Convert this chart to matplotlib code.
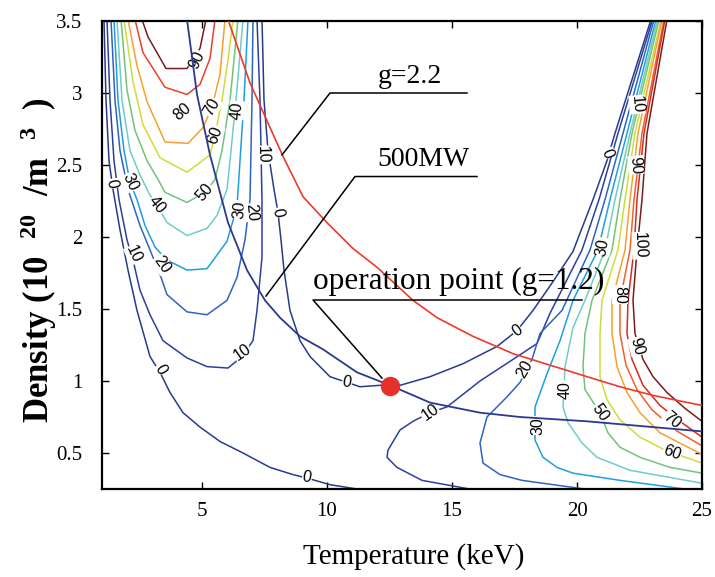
import numpy as np
import matplotlib.pyplot as plt

plt.rcParams['font.family'] = 'Liberation Serif'
plt.rcParams['mathtext.fontset'] = 'custom'
plt.rcParams['mathtext.rm'] = 'Liberation Serif:bold'
plt.rcParams['mathtext.bf'] = 'Liberation Serif:bold'
plt.rcParams['mathtext.it'] = 'Liberation Serif:bold:italic'

# --- contours of the left region (levels 0..90), T in keV, n in 1e20/m^3 ---
L0_T = [1.08, 1.16, 1.28, 1.44, 1.72, 2.04, 2.40, 2.92, 3.32, 3.72, 4.24, 4.92, 5.72, 6.64, 7.72, 8.64, 9.32, 10.12, 11.2]
L0_n = [3.51, 2.95, 2.53, 2.33, 2.05, 1.77, 1.49, 1.17, 1.06, 0.92, 0.78, 0.68, 0.58, 0.50, 0.40, 0.35, 0.32, 0.28, 0.25]
L10_T = [1.2, 1.32, 1.48, 1.68, 2.0, 2.24, 2.52, 2.92, 3.44, 4.4, 5.2, 6.04, 6.6, 7.04, 7.2, 7.4, 7.4, 7.32, 7.2]
L10_n = [3.51, 2.95, 2.53, 2.26, 1.98, 1.84, 1.63, 1.46, 1.28, 1.16, 1.10, 1.09, 1.17, 1.28, 1.49, 1.86, 2.26, 2.95, 3.51]
L20_T = [1.36, 1.52, 1.72, 2.04, 2.52, 2.92, 3.32, 3.6, 4.4, 5.2, 6.0, 6.4, 6.72, 6.92, 7.0, 7.04]
L20_n = [3.51, 2.95, 2.60, 2.33, 2.08, 1.91, 1.74, 1.60, 1.48, 1.46, 1.56, 1.72, 1.98, 2.26, 2.95, 3.51]
L30_T = [1.48, 1.64, 1.88, 2.12, 2.4, 2.72, 3.12, 3.6, 4.4, 5.2, 6.0, 6.4, 6.52, 6.68, 6.84]
L30_n = [3.51, 2.95, 2.60, 2.38, 2.26, 2.08, 1.93, 1.84, 1.77, 1.78, 1.97, 2.21, 2.53, 2.95, 3.51]
L40_T = [1.6, 1.8, 2.12, 2.52, 2.92, 3.2, 3.6, 4.4, 5.2, 5.6, 6.0, 6.12, 6.36, 6.64]
L40_n = [3.51, 2.95, 2.60, 2.43, 2.29, 2.22, 2.10, 2.01, 2.06, 2.15, 2.33, 2.53, 2.95, 3.51]
L50_T = [1.76, 2.0, 2.32, 2.8, 3.24, 3.52, 4.4, 5.12, 5.52, 5.8, 6.12, 6.44]
L50_n = [3.51, 3.02, 2.74, 2.53, 2.40, 2.31, 2.24, 2.31, 2.40, 2.60, 2.95, 3.51]
L60_T = [1.88, 2.24, 2.64, 3.32, 4.4, 5.32, 5.52, 5.8, 6.04, 6.24]
L60_n = [3.51, 3.08, 2.78, 2.55, 2.45, 2.57, 2.71, 2.95, 3.23, 3.51]
L70_T = [2.04, 2.4, 2.8, 3.52, 4.44, 5.04, 5.4, 5.72, 5.92]
L70_n = [3.51, 3.19, 2.94, 2.66, 2.65, 2.76, 2.90, 3.13, 3.51]
L80_T = [2.32, 2.64, 3.52, 4.4, 4.92, 5.32, 5.52]
L80_n = [3.51, 3.28, 3.04, 2.99, 3.06, 3.24, 3.51]
L90_T = [2.6, 2.84, 3.56, 4.4, 4.92, 5.16]
L90_n = [3.51, 3.39, 3.17, 3.17, 3.31, 3.51]

# zero contour through the operation point, joining both regions
Z0_T = [7.4, 7.48, 7.64, 7.88, 8.04, 8.16, 8.28, 8.52, 8.92, 9.32, 10.12, 10.8, 11.32, 12.12, 12.52,
        12.92, 14.12, 15.44, 16.8, 17.6, 18.24, 19.04, 19.84, 20.64, 21.2, 21.52, 22.96]
Z0_n = [3.51, 2.95, 2.60, 2.33, 2.17, 1.98, 1.77, 1.49, 1.28, 1.17, 1.03, 0.99, 0.96, 0.97, 0.97,
        0.97, 1.03, 1.12, 1.24, 1.35, 1.49, 1.69, 1.90, 2.26, 2.53, 2.72, 3.51]

# --- contours of the right region (levels 10..100) ---
R10_T = [23.02, 21.64, 20.88, 20.2, 18.92, 18.4, 17.44, 16.12, 14.8, 14.12, 13.44, 12.92, 12.44, 12.4, 12.8, 13.8, 15.7]
R10_n = [3.51, 2.72, 2.26, 1.91, 1.47, 1.26, 1.15, 1.0, 0.82, 0.78, 0.72, 0.66, 0.52, 0.47, 0.40, 0.31, 0.25]
R20_T = [23.08, 21.84, 21.12, 20.52, 19.4, 18.52, 18.2, 17.72, 17.2, 16.4, 16.12, 16.24, 16.92, 17.8, 20.3]
R20_n = [3.51, 2.72, 2.26, 1.91, 1.49, 1.33, 1.15, 0.99, 0.89, 0.75, 0.57, 0.43, 0.35, 0.31, 0.25]
R30_T = [23.16, 22.0, 21.32, 20.84, 19.84, 19.32, 18.8, 18.32, 18.32, 18.64, 19.2, 19.84, 21.72, 24.3]
R30_n = [3.51, 2.72, 2.26, 1.91, 1.56, 1.28, 1.05, 0.82, 0.59, 0.47, 0.40, 0.36, 0.31, 0.25]
R40_T = [23.22, 22.12, 21.52, 21.12, 20.32, 19.84, 19.52, 19.48, 19.44, 19.64, 20.2, 20.8, 22.12, 23.72, 25.0]
R40_n = [3.51, 2.72, 2.26, 1.91, 1.56, 1.37, 1.10, 0.95, 0.82, 0.71, 0.57, 0.47, 0.38, 0.33, 0.29]
R50_T = [23.28, 22.2, 21.72, 21.4, 20.6, 20.32, 20.24, 20.32, 20.92, 21.24, 21.72, 22.52, 23.72, 25.0]
R50_n = [3.51, 2.72, 2.26, 1.91, 1.56, 1.33, 1.10, 0.94, 0.78, 0.64, 0.54, 0.47, 0.40, 0.36]
R60_T = [23.36, 22.32, 21.92, 21.64, 21.0, 20.92, 20.92, 21.2, 21.72, 22.52, 23.52, 25.0]
R60_n = [3.51, 2.72, 2.26, 1.91, 1.56, 1.33, 1.03, 0.87, 0.73, 0.61, 0.52, 0.43]
R70_T = [23.4, 22.44, 22.12, 21.92, 21.4, 21.4, 21.6, 22.0, 22.52, 23.32, 25.0]
R70_n = [3.51, 2.72, 2.26, 1.91, 1.56, 1.33, 1.10, 0.92, 0.78, 0.64, 0.49]
R80_T = [23.48, 22.6, 22.28, 22.12, 21.72, 21.72, 21.96, 22.4, 23.0, 23.92, 25.0]
R80_n = [3.51, 2.72, 2.26, 1.91, 1.56, 1.33, 1.11, 0.94, 0.80, 0.66, 0.55]
R90_T = [23.52, 22.68, 22.4, 22.28, 22.04, 22.0, 22.2, 22.64, 23.32, 24.12, 25.0]
R90_n = [3.51, 2.72, 2.26, 1.91, 1.56, 1.33, 1.15, 0.97, 0.83, 0.72, 0.61]
R100_T = [23.6, 22.8, 22.6, 22.4, 22.24, 22.32, 22.64, 23.04, 23.6, 24.32, 25.0]
R100_n = [3.51, 2.72, 2.26, 1.91, 1.56, 1.33, 1.15, 1.03, 0.92, 0.81, 0.72]

# g = 2.2 curve and 500 MW fusion power curve
g22_T = [6.04, 6.92, 8.24, 9.04, 10.0, 11.04, 12.0, 13.44, 14.4, 15.84, 17.44, 18.92, 20.4, 21.72, 23.04, 25.0]
g22_n = [3.51, 3.07, 2.56, 2.28, 2.10, 1.92, 1.79, 1.56, 1.44, 1.31, 1.19, 1.11, 1.03, 0.96, 0.90, 0.83]
p500_T = [4.4, 4.8, 5.32, 6.04, 6.8, 7.52, 8.12, 8.92, 9.84, 11.2, 12.52, 12.92, 14.12, 16.12, 17.72, 20.4, 25.0]
p500_n = [3.51, 2.99, 2.57, 2.10, 1.77, 1.56, 1.44, 1.31, 1.22, 1.06, 0.97, 0.94, 0.85, 0.78, 0.75, 0.72, 0.65]

op_T, op_n = 12.5, 0.965

# contour labels
lab_text = ['0', '10', '20', '30', '40', '50', '60', '70', '80', '90', '40', '30', '20', '10', '0',
            '10', '0', '0', '0',
            '10', '0', '20', '30', '40', '50', '60', '70', '80', '90', '90', '100', '30', '0', '10']
lab_T = [1.4, 2.28, 3.4, 2.12, 3.2, 5.12, 5.52, 5.4, 4.2, 4.8, 6.4, 6.52, 7.0, 7.44, 8.04,
         6.6, 3.32, 9.2, 10.8,
         14.12, 17.6, 17.92, 18.44, 19.52, 20.92, 23.8, 23.8, 21.72, 22.4, 22.36, 22.52, 21.04, 21.2, 22.4]
lab_n = [2.37, 1.88, 1.81, 2.38, 2.22, 2.31, 2.71, 2.90, 2.87, 3.23, 2.88, 2.19, 2.17, 2.57, 2.17,
         1.20, 1.08, 0.33, 0.99,
         0.78, 1.35, 1.08, 0.69, 0.94, 0.78, 0.50, 0.73, 1.60, 1.24, 2.50, 1.94, 1.93, 2.58, 2.92]
lab_rot = [-80, -65, -55, -65, -50, 50, 70, 60, 40, 65, 85, 85, -85, -88, -80,
           35, -60, -10, -10,
           35, 35, 60, 90, 90, -55, -20, -40, -90, -75, -85, -88, 80, -70, -85]

# colours
c_left = ['#283a8c', '#2d3f9e', '#2f63c0', '#1f9fe0', '#6fcdc8', '#74c27a', '#cfdc3a', '#f7a030', '#e8402c', '#7a1c1c']
c_right = ['#2d3f9e', '#2f63c0', '#1f9fe0', '#6fcdc8', '#74c27a', '#cfdc3a', '#f7a030', '#f0602a', '#d42a22', '#7a1c1c']

left_lines = [(L0_T, L0_n), (L10_T, L10_n), (L20_T, L20_n), (L30_T, L30_n), (L40_T, L40_n),
              (L50_T, L50_n), (L60_T, L60_n), (L70_T, L70_n), (L80_T, L80_n), (L90_T, L90_n)]
right_lines = [(R10_T, R10_n), (R20_T, R20_n), (R30_T, R30_n), (R40_T, R40_n), (R50_T, R50_n),
               (R60_T, R60_n), (R70_T, R70_n), (R80_T, R80_n), (R90_T, R90_n), (R100_T, R100_n)]

fig = plt.figure(figsize=(7.15, 5.77), dpi=100)
ax = fig.add_axes([102 / 715, 88 / 577, 600 / 715, 468 / 577])

for (t, n), c in zip(left_lines, c_left):
    ax.plot(t, n, color=c, lw=1.1)
for (t, n), c in zip(right_lines, c_right):
    ax.plot(t, n, color=c, lw=1.1)
ax.plot(Z0_T, Z0_n, color=c_left[0], lw=1.1)

for t, n, s, r in zip(lab_T, lab_n, lab_text, lab_rot):
    ax.text(t, n, s, rotation=r, ha='center', va='center', rotation_mode='anchor',
            family='Liberation Sans', fontsize=11.5, zorder=3,
            bbox=dict(fc='white', ec='none', pad=0.3))

ax.plot(g22_T, g22_n, color='#ee3a2a', lw=1.2, zorder=4)
ax.plot(p500_T, p500_n, color='#2b3990', lw=1.3, zorder=4)

# annotations
ax.plot([8.2, 10.12, 15.6], [2.57, 3.0, 3.0], color='k', lw=1.1, zorder=5)
ax.text(13.3, 3.03, 'g=2.2', ha='center', va='bottom', fontsize=20, zorder=5)
ax.plot([7.56, 11.12, 16.0], [1.59, 2.42, 2.42], color='k', lw=1.1, zorder=5)
ax.text(13.84, 2.45, '500MW', ha='center', va='bottom', fontsize=20, zorder=5)
ax.plot([12.2, 9.44, 20.2], [1.02, 1.5625, 1.5625], color='k', lw=1.1, zorder=5)
ax.text(9.44, 1.64, 'operation point (g=1.2)', ha='left', va='baseline', fontsize=22.5, zorder=5)

ax.plot(op_T, op_n, 'o', color='#e8302a', ms=13, zorder=6)

ax.set_xlim(1, 25)
ax.set_ylim(0.25, 3.5)
ax.set_xticks([5, 10, 15, 20, 25])
ax.set_yticks([0.5, 1, 1.5, 2, 2.5, 3, 3.5])
ax.set_yticklabels(['0.5', '1', '1.5', '2', '2.5', '3', '3.5'])
ax.tick_params(direction='in', top=True, right=True, length=5, width=1, labelsize=15)
ax.tick_params(axis='y', pad=14)
ax.tick_params(axis='x', pad=9)
for sp in ax.spines.values():
    sp.set_linewidth(1.6)

ax.set_xlabel('Temperature (keV)', fontsize=21)
ax.xaxis.set_label_coords(0.52, -0.115)
ax.set_ylabel(r'Density (10  $^{20}$  /m  $^{3}$  )', fontsize=25, fontweight='bold')
ax.yaxis.set_label_coords(-0.072, 0.49)

fig.savefig('out.png', dpi=100)
